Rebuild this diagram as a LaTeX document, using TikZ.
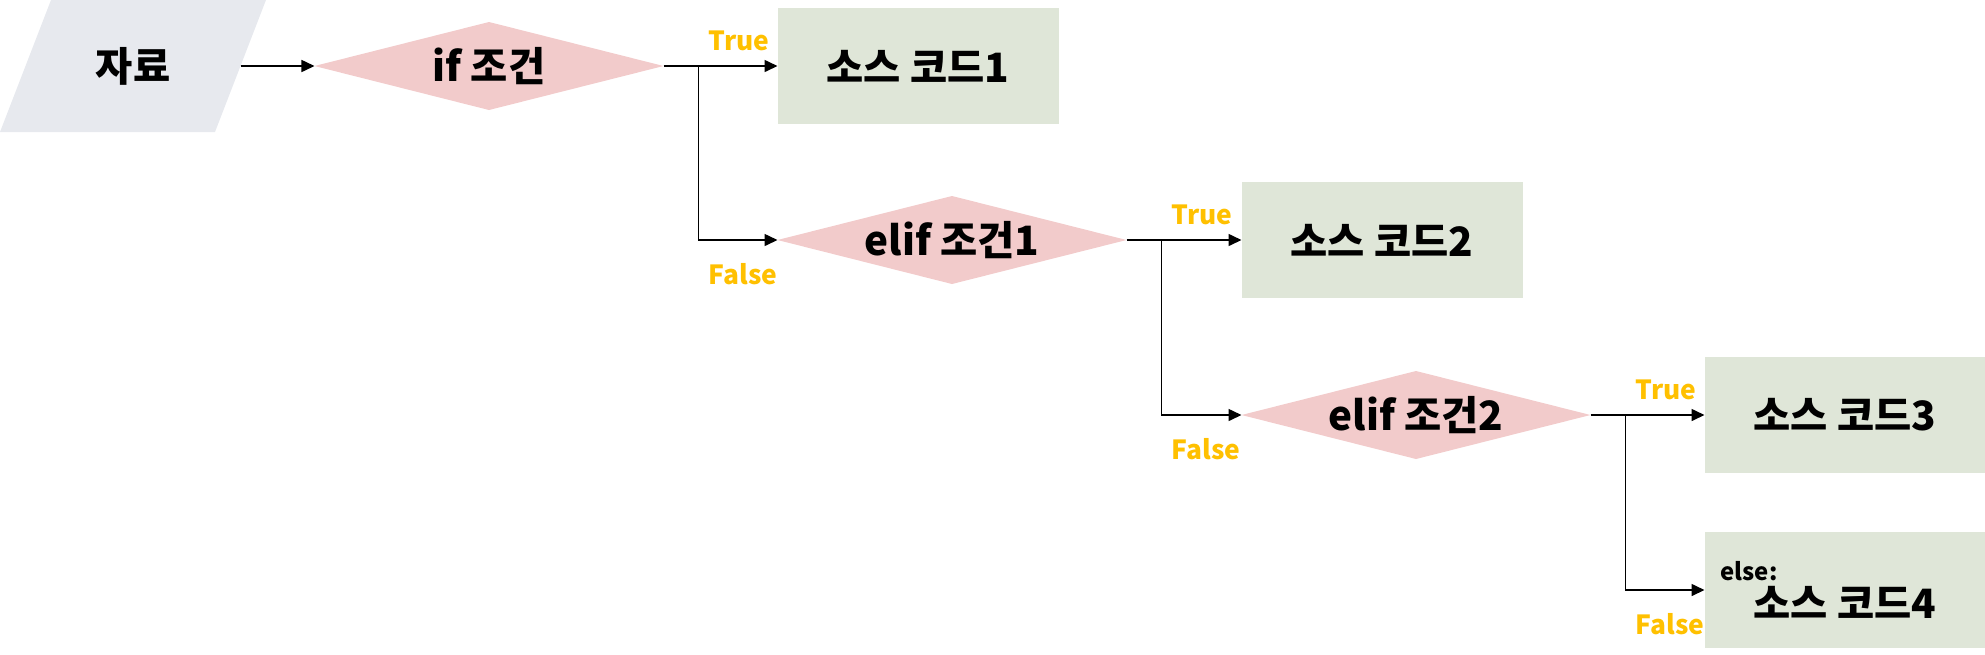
\documentclass[tikz,border=0pt]{standalone}
\usepackage{fontspec}
\setmainfont{Noto Sans CJK KR}
\definecolor{flowGray}{RGB}{231,233,238}
\definecolor{condPink}{RGB}{242,203,203}
\definecolor{codeGreen}{RGB}{223,230,216}
\definecolor{labelGold}{RGB}{255,192,0}
\usetikzlibrary{shapes.geometric,arrows.meta,positioning,backgrounds}

\begin{document}
\begin{tikzpicture}[
    font=\bfseries\fontsize{11.5}{11}\selectfont,
    data/.style={rectangle, minimum width=2.15cm, minimum height=1.32cm,
      inner sep=0pt, outer sep=0pt},
    cond/.style={diamond, aspect=3.97, fill=condPink, minimum width=3.49cm,
      minimum height=0.88cm, inner sep=0pt, outer sep=0pt},
    code/.style={rectangle, fill=codeGreen, minimum width=2.81cm,
      minimum height=1.16cm, inner sep=0pt, outer sep=0pt},
    tf/.style={text=labelGold, font=\bfseries\fontsize{7.5}{9}\selectfont, inner sep=1pt},
    flow/.style={-{Triangle[length=1.3mm,width=1.2mm]}, line width=0.45pt}
  ]
  \useasboundingbox (0,0) rectangle (19.85,6.54);

  % shapes
  \node[data] (data) at (1.33,5.88) {자료};
  \node[cond] (if) at (4.89,5.88) {if 조건};
  \node[code] (code1) at (9.18,5.88) {소스 코드1};
  \node[cond] (elif1) at (9.52,4.14) {elif 조건1};
  \node[code] (code2) at (13.82,4.14) {소스 코드2};
  \node[cond] (elif2) at (14.16,2.39) {elif 조건2};
  \node[code] (code3) at (18.45,2.39) {소스 코드3};
  \node[code, align=center] (code4) at (18.45,0.64)
    {\makebox[2.49cm][l]{\fontsize{6.8}{8}\selectfont else:}\\소스 코드4};

  % slanted input box behind its text
  \begin{scope}[on background layer]
    \fill[flowGray] ([xshift=-0.255cm]data.south west) -- ([xshift=-0.255cm]data.south east)
      -- ([xshift=0.255cm]data.north east) -- ([xshift=0.255cm]data.north west) -- cycle;
  \end{scope}

  % branch points
  \coordinate (j1) at ([xshift=0.35cm]if.east);
  \coordinate (j2) at ([xshift=0.35cm]elif1.east);
  \coordinate (j3) at ([xshift=0.35cm]elif2.east);
  \coordinate (k1) at (j1 |- elif1.west);
  \coordinate (k2) at (j2 |- elif2.west);
  \coordinate (k3) at (j3 |- code4.west);

  % connectors
  \draw[flow] (data) -- (if);
  \draw[flow] (if.east) -- (code1.west);
  \draw[flow] (j1) -- (k1) -- (elif1.west);
  \draw[flow] (elif1.east) -- (code2.west);
  \draw[flow] (j2) -- (k2) -- (elif2.west);
  \draw[flow] (elif2.east) -- (code3.west);
  \draw[flow] (j3) -- (k3) -- (code4.west);

  % True / False
  \node[tf, above right=0.11cm and 0.06cm of j1] (true1) {True};
  \node[tf, below right=0.19cm and 0.06cm of k1] (false1) {False};
  \node[tf, above right=0.11cm and 0.06cm of j2] (true2) {True};
  \node[tf, below right=0.19cm and 0.06cm of k2] (false2) {False};
  \node[tf, above right=0.11cm and 0.06cm of j3] (true3) {True};
  \node[tf, below right=0.19cm and 0.06cm of k3] (false3) {False};
\end{tikzpicture}
\end{document}
